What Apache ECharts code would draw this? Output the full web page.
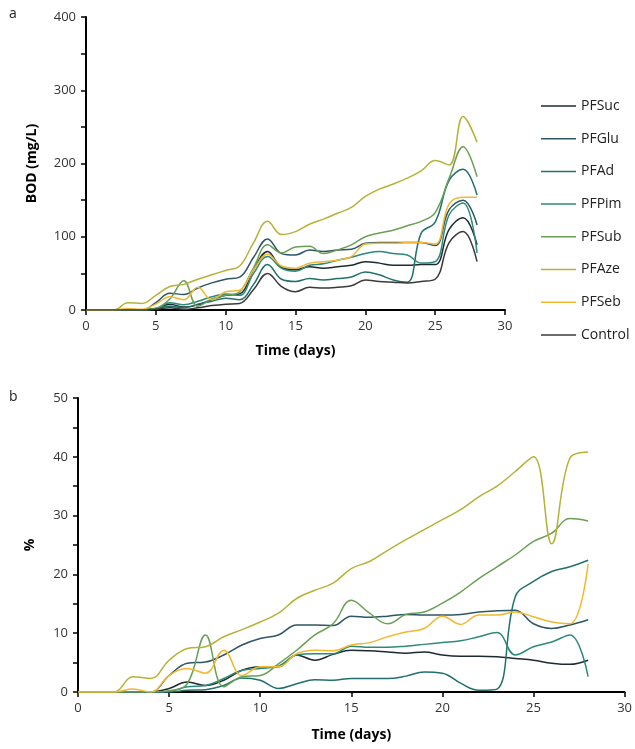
<!DOCTYPE html>
<html>
<head>
<meta charset="utf-8">
<script src="https://cdn.jsdelivr.net/npm/echarts@6/dist/echarts.min.js"></script>
<style>
html,body{margin:0;padding:0;background:#fff;}
#c{width:635px;height:749px;}
</style>
</head>
<body>
<div id="c"></div>
<script>
// Days (x values)
var days = [0,1,2,3,4,5,6,7,8,9,10,11,12,13,14,15,16,17,18,19,20,21,22,23,24,25,26,27,28];
var seriesNames = ['PFSuc','PFGlu','PFAd','PFPim','PFSub','PFAze','PFSeb','Control'];

// Panel a: BOD (mg/L)
var bodSuc  = [0,0,0,0,0,2,8,4,7,14,20,22,55,80,58,55,59,57,59,61,66,64,61,61,62,62,110,126,89];
var bodGlu  = [0,0,0,0,0,10,23,21,30,37,42,45,72,97,77,75,82,80,82,83,91,92,92,92,92,88,137,150,116];
var bodAd   = [0,0,0,0,0,2,5,3,8,12,16,14,35,62,42,39,43,41,43,45,52,48,41,38,105,120,177,192,157];
var bodPim  = [0,0,0,0,0,2,10,7,12,18,22,20,50,73,57,53,61,63,68,72,77,80,77,75,64,66,130,146,78];
var bodSub  = [0,0,0,0,0,2,15,40,5,15,20,25,58,89,78,86,87,77,82,89,100,105,109,115,121,133,180,223,182];
var bodAze  = [0,0,0,10,9,20,32,35,42,48,54,60,92,121,103,107,117,124,132,140,155,165,172,180,190,204,198,264,229];
var bodSeb  = [0,0,0,2,1,8,18,14,31,14,25,27,55,76,60,57,64,66,68,73,90,91,91,92,92,90,145,154,154];
var bodCtrl = [0,0,0,0,0,1,3,1,3,6,8,9,28,50,32,25,31,30,31,33,41,39,38,37,39,42,92,107,66];

// Panel b: %
var pctSuc = [0,0,0,0,0,0.6,1.7,1.1,2.0,3.7,4.3,4.3,6.3,5.4,6.4,7.1,7.0,6.8,6.6,6.8,6.3,6.1,6.1,6.0,5.7,5.4,4.9,4.7,5.4];
var pctGlu = [0,0,0,0,0,2.8,4.9,5.1,6.3,8.0,9.1,9.7,11.4,11.4,11.3,12.9,12.7,12.9,13.2,13.1,13.1,13.2,13.6,13.8,13.9,11.6,10.8,11.4,12.3];
var pctAd  = [0,0,0,0,0,0,0.3,0.4,1.1,2.4,2.0,0.6,1.4,2.1,2.0,2.3,2.3,2.3,2.7,3.4,3.2,1.5,0.3,0.5,16.2,18.8,20.5,21.3,22.4];
var pctPim = [0,0,0,0,0,0.1,0.9,1.1,2.3,3.7,4.0,4.4,6.3,6.5,6.5,7.8,7.6,7.6,7.8,8.1,8.4,8.7,9.4,10.1,6.3,7.7,8.5,9.7,2.6];
var pctSub = [0,0,0,0,0,0.2,1.4,9.7,0.9,2.6,2.8,4.8,7.1,9.7,11.6,15.6,13.4,11.6,13.2,13.6,15.1,17.0,19.3,21.3,23.3,25.6,27.0,29.5,29.1];
var pctAze = [0,0,0,2.6,2.3,5.4,7.4,7.7,9.4,10.6,11.9,13.4,15.9,17.3,18.5,21.0,22.2,24.1,25.9,27.6,29.3,31.0,33.2,35.0,37.5,40.0,25.2,39.8,40.8];
var pctSeb = [0,0,0,0.5,0,2.8,4.0,3.2,7.1,2.8,4.3,4.3,6.5,7.1,7.0,8.0,8.4,9.4,10.2,10.8,12.9,11.5,13.1,13.1,13.6,12.8,11.9,11.6,21.8];

var colors = {
  PFSuc:'#1d2b31', PFGlu:'#2e5666', PFAd:'#21706d', PFPim:'#2d8a78',
  PFSub:'#69a055', PFAze:'#b5b236', PFSeb:'#f1b830', Control:'#3a3a3a'
};

function pairs(arr){ return days.map(function(d,i){ return [d, arr[i]]; }); }

var topData = {PFSuc:bodSuc, PFGlu:bodGlu, PFAd:bodAd, PFPim:bodPim, PFSub:bodSub, PFAze:bodAze, PFSeb:bodSeb, Control:bodCtrl};
var botData = {PFSuc:pctSuc, PFGlu:pctGlu, PFAd:pctAd, PFPim:pctPim, PFSub:pctSub, PFAze:pctAze, PFSeb:pctSeb};

var FONT = 'Open Sans';
var series = [];
seriesNames.forEach(function(n){
  series.push({name:n, type:'line', xAxisIndex:0, yAxisIndex:0, data:pairs(topData[n]),
    smooth:0.4, symbol:'none', lineStyle:{width:1.5, color:colors[n]}, itemStyle:{color:colors[n]}, z:2});
});
['PFSuc','PFGlu','PFAd','PFPim','PFSub','PFAze','PFSeb'].forEach(function(n){
  series.push({name:n, type:'line', xAxisIndex:1, yAxisIndex:1, data:pairs(botData[n]),
    smooth:0.4, symbol:'none', lineStyle:{width:1.5, color:colors[n]}, itemStyle:{color:colors[n]}, z:2});
});

function xAxisCfg(idx, gap){
  return {type:'value', gridIndex:idx, min:0, max:30, interval:5,
    name:'Time (days)', nameLocation:'middle', nameGap:gap,
    nameTextStyle:{fontFamily:FONT, fontSize:14, fontWeight:'bold', color:'#000'},
    axisLine:{show:true, onZero:false, lineStyle:{color:'#000', width:2}},
    axisTick:{show:true, length:5, lineStyle:{color:'#000', width:1.5}},
    axisLabel:{fontFamily:FONT, fontSize:13, color:'#333', margin:10},
    splitLine:{show:false}};
}
function yAxisCfg(idx, max, interval, name, gap){
  return {type:'value', gridIndex:idx, min:0, max:max, interval:interval,
    name:name, nameLocation:'middle', nameGap:gap, nameRotate:90,
    nameTextStyle:{fontFamily:FONT, fontSize:14, fontWeight:'bold', color:'#000'},
    axisLine:{show:true, lineStyle:{color:'#000', width:2}},
    axisTick:{show:true, length:5, lineStyle:{color:'#000', width:1.5}},
    minorTick:{show:true, splitNumber:2, length:5, lineStyle:{color:'#000', width:1.5}},
    axisLabel:{fontFamily:FONT, fontSize:13, color:'#333', margin:10},
    splitLine:{show:false}};
}

var chart = echarts.init(document.getElementById('c'), null, {renderer:'canvas'});
chart.setOption({
  animation:false,
  backgroundColor:'#fff',
  color: seriesNames.map(function(n){return colors[n];}),
  grid:[
    {left:86, top:17, width:419, height:293},
    {left:78, top:398, width:548, height:294}
  ],
  xAxis:[xAxisCfg(0, 34), xAxisCfg(1, 36)],
  yAxis:[yAxisCfg(0, 400, 100, 'BOD (mg/L)', 47), yAxisCfg(1, 50, 10, '%', 41)],
  legend:{show:true, orient:'vertical', left:541, top:98, padding:0, icon:'rect', itemWidth:35, itemHeight:1.5, itemGap:16.7,
    data:seriesNames, textStyle:{fontFamily:FONT, fontSize:14, color:'#222', lineHeight:16}, selectedMode:false},
  graphic:[
    {type:'text', left:9, top:7, style:{text:'a', fontFamily:FONT, fontSize:14, fill:'#222'}},
    {type:'text', left:9, top:390, style:{text:'b', fontFamily:FONT, fontSize:14, fill:'#222'}}
  ],
  series:series
});
</script>
</body>
</html>
